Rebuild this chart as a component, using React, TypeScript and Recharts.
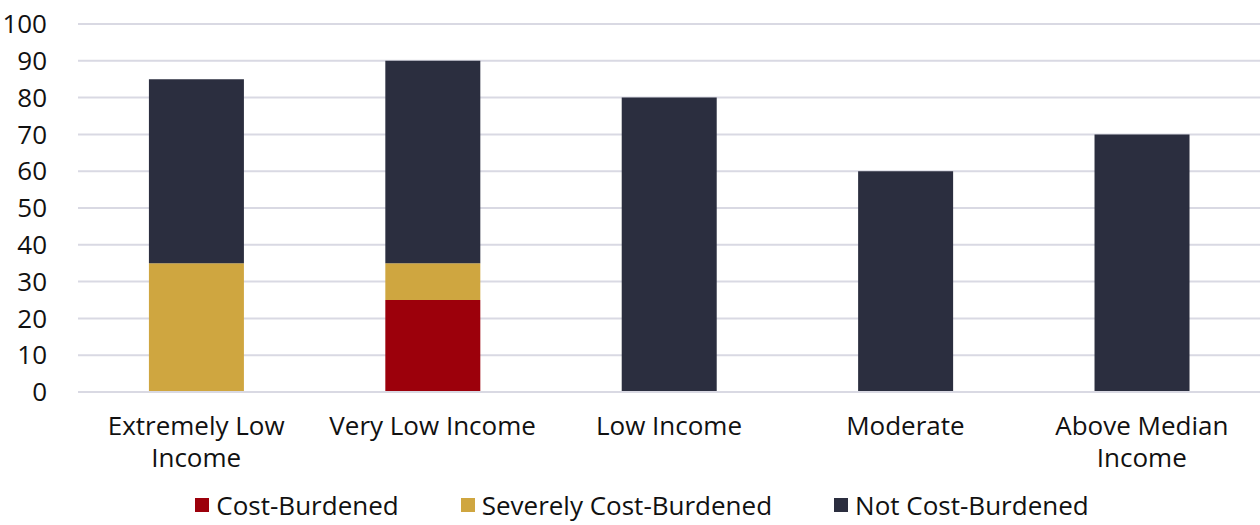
import { BarChart, Bar, XAxis, YAxis, CartesianGrid, Legend } from "recharts";

const categories = ["Extremely Low Income", "Very Low Income", "Low Income", "Moderate", "Above Median Income"];
const costBurdened = [0, 25, 0, 0, 0];
const severelyBurdened = [35, 10, 0, 0, 0];
const notBurdened = [50, 55, 80, 60, 70];
const yTicks = [0, 10, 20, 30, 40, 50, 60, 70, 80, 90, 100];

const RED = "#9c000b";
const GOLD = "#cfa640";
const NAVY = "#2b2e3f";
const GRID = "#d9d9e3";
const FONT = "'Open Sans', sans-serif";
const FS = 26;

const data = categories.map((name, i) => ({
  name,
  cost: costBurdened[i],
  severe: severelyBurdened[i],
  not: notBurdened[i],
}));

const series = [
  { key: "cost", label: "Cost-Burdened", color: RED },
  { key: "severe", label: "Severely Cost-Burdened", color: GOLD },
  { key: "not", label: "Not Cost-Burdened", color: NAVY },
];

// break a label into lines of at most 15 chars
function wrap(label: string) {
  const lines: string[] = [];
  let cur = "";
  for (const w of label.split(" ")) {
    const next = cur ? cur + " " + w : w;
    if (next.length > 15 && cur) {
      lines.push(cur);
      cur = w;
    } else cur = next;
  }
  if (cur) lines.push(cur);
  return lines;
}

function CategoryTick({ x, y, payload }: any) {
  return (
    <text x={x} y={y + 12} textAnchor="middle" fontSize={FS} fontFamily={FONT} fill="#111">
      {wrap(payload.value).map((line, i) => (
        <tspan key={i} x={x} dy={i === 0 ? "0.9em" : 32}>
          {line}
        </tspan>
      ))}
    </text>
  );
}

function LegendRow() {
  return (
    <div style={{ display: "flex", justifyContent: "center", gap: 62, fontFamily: FONT, fontSize: FS, color: "#111", paddingLeft: 24, lineHeight: "32px" }}>
      {series.map((s) => (
        <div key={s.key} style={{ display: "flex", alignItems: "center" }}>
          <span style={{ width: 14, height: 14, background: s.color, display: "inline-block", marginRight: 7 }} />
          <span>{s.label}</span>
        </div>
      ))}
    </div>
  );
}

export default function App() {
  return (
    <div style={{ position: "absolute", left: 0, top: 0, width: 1260, height: 525, background: "#fff" }}>
      <BarChart
        width={1260}
        height={525}
        data={data}
        margin={{ top: 24, right: 0, left: 0, bottom: 0 }}
        barCategoryGap="30%"
      >
        <CartesianGrid vertical={false} stroke={GRID} strokeWidth={2} />
        <XAxis
          dataKey="name"
          tick={<CategoryTick />}
          tickLine={false}
          axisLine={{ stroke: GRID, strokeWidth: 2 }}
          interval={0}
          height={97}
        />
        <YAxis
          domain={[0, 100]}
          ticks={yTicks}
          width={78}
          tickLine={false}
          axisLine={false}
          tickMargin={25}
          tick={{ fontSize: FS, fontFamily: FONT, fill: "#111" }}
        />
        <Legend verticalAlign="bottom" height={36} content={<LegendRow />} />
        {series.map((s) => (
          <Bar key={s.key} dataKey={s.key} name={s.label} stackId="a" fill={s.color} isAnimationActive={false} />
        ))}
      </BarChart>
    </div>
  );
}
